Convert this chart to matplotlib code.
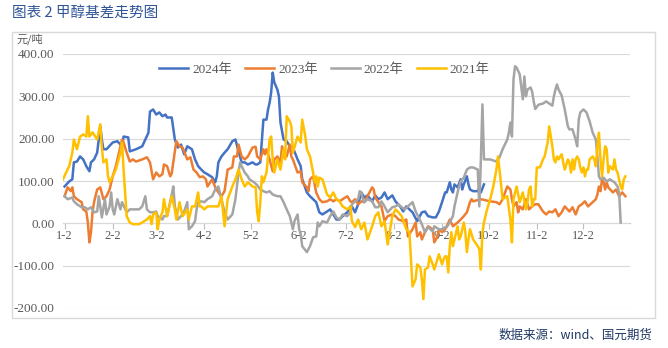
import datetime as dt
import matplotlib
matplotlib.use("Agg")
import matplotlib.pyplot as plt
from matplotlib import font_manager
from matplotlib.patches import Rectangle

serif = "Liberation Serif"
try:
    font_manager.findfont(font_manager.FontProperties(family=serif), fallback_to_default=False)
except Exception:
    serif = "DejaVu Serif"
plt.rcParams['font.family'] = [serif, 'Noto Sans CJK SC', 'DejaVu Sans']

# ---- data: day of year -> basis (yuan/ton) ----
day_2024 = [2, 5, 7, 8, 10, 12, 14, 16, 18, 19,
            21, 23, 25, 26, 27, 29, 33, 36, 39, 40,
            43, 44, 48, 52, 56, 57, 59, 61, 63, 65,
            67, 68, 71, 73, 75, 77, 79, 81, 84, 86,
            88, 90, 92, 94, 97, 99, 100, 101, 103, 105,
            107, 110, 112, 114, 116, 118, 120, 123, 125, 126,
            128, 130, 132, 133, 134, 135, 136, 137, 139, 140,
            141, 143, 145, 147, 149, 152, 154, 155, 158, 160,
            162, 164, 166, 168, 171, 173, 175, 177, 179, 181,
            184, 186, 187, 189, 191, 193, 195, 197, 200, 202,
            204, 206, 208, 210, 213, 215, 218, 220, 222, 226,
            229, 232, 234, 236, 239, 241, 243, 245, 247, 248,
            250, 251, 252, 253, 255, 257, 258, 259, 261, 262,
            263, 265, 268, 269, 270, 272]
val_2024 = [87, 99, 104, 144, 146, 158, 151, 135, 123, 144,
            151, 167, 229, 198, 175, 175, 191, 194, 182, 205,
            203, 170, 175, 182, 214, 264, 269, 257, 262, 253,
            257, 250, 250, 198, 179, 186, 163, 182, 175, 151,
            135, 127, 120, 116, 109, 97, 111, 144, 158, 167,
            175, 194, 198, 170, 144, 144, 139, 144, 139, 139,
            144, 245, 245, 269, 285, 309, 356, 333, 316, 300,
            238, 198, 194, 182, 179, 151, 135, 104, 73, 64,
            57, 50, 26, 21, 28, 33, 21, 9, 9, 17,
            26, 40, 40, 26, 45, 73, 61, 66, 52, 66,
            57, 61, 73, 57, 66, 52, 40, 28, 40, 26,
            5, 26, 28, 17, 14, 14, 28, 50, 73, 73,
            97, 80, 73, 92, 85, 104, 80, 92, 111, 92,
            80, 76, 76, 85, 73, 92]

day_2023 = [2, 4, 6, 7, 8, 10, 13, 14, 16, 17,
            18, 19, 20, 21, 23, 25, 27, 29, 31, 33,
            35, 38, 39, 40, 42, 44, 46, 48, 52, 55,
            57, 59, 61, 63, 65, 66, 68, 70, 71, 73,
            74, 76, 78, 81, 83, 85, 87, 89, 91, 93,
            94, 97, 99, 101, 103, 105, 107, 110, 111, 113,
            114, 116, 118, 120, 123, 125, 126, 128, 130, 131,
            132, 134, 136, 137, 139, 141, 142, 143, 145, 147,
            148, 149, 152, 154, 155, 158, 159, 160, 162, 164,
            166, 168, 171, 173, 175, 177, 179, 181, 184, 186,
            187, 189, 191, 193, 195, 197, 200, 201, 202, 204,
            206, 208, 210, 213, 215, 217, 220, 222, 223, 226,
            228, 229, 231, 232, 234, 236, 239, 240, 242, 243,
            245, 247, 248, 250, 252, 255, 257, 259, 261, 263,
            264, 265, 270, 276, 280, 282, 284, 287, 289, 290,
            291, 293, 294, 295, 297, 299, 301, 303, 305, 307,
            310, 312, 314, 316, 318, 320, 322, 324, 327, 329,
            331, 333, 335, 337, 339, 342, 344, 345, 346, 347,
            348, 349, 350, 351, 352, 355, 357, 359, 361, 363]
val_2023 = [64, 85, 76, 85, 64, 57, 50, 33, 28, 2,
            -45, -21, 26, 50, 80, 85, 57, 64, 80, 111,
            135, 182, 198, 191, 167, 146, 151, 146, 151, 156,
            144, 104, 120, 111, 116, 139, 135, 111, 118, 170,
            194, 182, 179, 151, 156, 127, 120, 109, 111, 104,
            87, 104, 85, 73, 64, 76, 127, 132, 158, 158,
            186, 158, 151, 158, 179, 181, 158, 151, 175, 163,
            175, 151, 123, 151, 158, 144, 182, 163, 158, 186,
            158, 151, 120, 123, 97, 85, 76, 104, 111, 73,
            57, 50, 52, 57, 52, 57, 52, 57, 64, 52,
            50, 57, 45, 52, 50, 64, 85, 80, 61, 50,
            40, 5, 17, 21, 17, 9, 5, 9, -31, -14,
            2, -31, -21, -38, -21, -7, -14, -45, -31, -14,
            -21, -14, -7, 9, -7, 2, 9, 17, 26, 50,
            57, 52, 57, 52, 50, 45, 57, 87, 80, 57,
            40, 50, 26, 40, 33, 57, 33, 40, 45, 45,
            28, 21, 28, 26, 33, 17, 26, 40, 28, 38,
            21, 40, 45, 52, 40, 50, 57, 68, 87, 76,
            104, 97, 80, 97, 85, 73, 80, 64, 73, 64]

day_2022 = [2, 4, 7, 8, 10, 13, 15, 17, 19, 21,
            23, 24, 25, 26, 28, 29, 31, 32, 33, 34,
            36, 38, 39, 42, 44, 46, 50, 52, 54, 55,
            57, 59, 61, 62, 65, 66, 68, 71, 72, 73,
            75, 77, 79, 81, 82, 84, 86, 87, 88, 90,
            92, 94, 97, 99, 101, 103, 105, 107, 110, 112,
            114, 115, 116, 118, 120, 121, 124, 126, 128, 130,
            132, 134, 136, 139, 141, 143, 145, 147, 149, 150,
            152, 153, 154, 155, 158, 160, 162, 164, 165, 166,
            168, 171, 173, 175, 177, 179, 181, 184, 186, 187,
            189, 191, 192, 193, 194, 195, 197, 200, 202, 204,
            206, 208, 210, 213, 215, 217, 219, 221, 223, 226,
            228, 230, 232, 234, 236, 239, 240, 243, 245, 247,
            248, 250, 252, 253, 255, 256, 257, 259, 261, 263,
            265, 268, 269, 270, 271, 272, 276, 280, 282, 284,
            287, 288, 289, 290, 291, 292, 293, 295, 297, 298,
            299, 300, 302, 303, 304, 305, 307, 310, 312, 314,
            316, 317, 318, 319, 320, 321, 322, 324, 326, 327,
            329, 331, 332, 333, 334, 336, 338, 340, 342, 344,
            345, 346, 347, 349, 351, 353, 356, 358, 359, 360]
val_2022 = [64, 57, 61, 52, 45, 38, 38, 33, 38, 26,
            28, 64, 40, 14, 57, 21, 40, 73, 33, 21,
            57, 33, 50, 26, 33, 33, 33, 40, 64, 33,
            26, 26, 28, 17, 9, 17, 17, 68, 87, 40,
            9, 17, 28, 50, -14, -7, 5, 33, 50, 52,
            50, 57, 64, 80, 87, 57, 26, 9, 21, 57,
            120, 144, 135, 120, 111, 104, 97, 90, 80, 76,
            73, 76, 68, 64, 64, 50, 33, 17, -14, 5,
            21, -14, -26, -54, -68, -54, -33, -31, 2, -7,
            5, 2, 17, 28, 14, 9, 21, 17, 26, 45,
            52, 57, 76, 73, 57, 50, 57, 52, 38, 38,
            52, 40, 26, 38, 40, 45, 38, 33, 40, 50,
            28, 14, -2, -21, -9, -19, -7, -14, -14, -9,
            -9, 2, 17, 40, 73, 87, 99, 108, 127, 132,
            132, 127, 40, 151, 281, 151, 151, 146, 156, 175,
            198, 214, 238, 205, 340, 371, 368, 352, 293, 347,
            300, 316, 321, 311, 288, 270, 280, 283, 288, 283,
            278, 300, 316, 328, 316, 309, 302, 269, 229, 222,
            222, 198, 182, 245, 262, 269, 262, 241, 214, 198,
            158, 111, 104, 108, 99, 104, 97, 87, 73, 2]

day_2021 = [1, 3, 5, 7, 8, 10, 12, 14, 16, 17,
            18, 20, 23, 25, 26, 27, 29, 30, 31, 32,
            33, 35, 38, 39, 40, 42, 44, 46, 48, 50,
            52, 55, 57, 58, 59, 61, 62, 63, 65, 66,
            68, 71, 73, 74, 76, 78, 81, 82, 84, 86,
            87, 88, 89, 90, 92, 94, 97, 99, 101, 103,
            105, 106, 107, 110, 112, 114, 116, 118, 120, 123,
            125, 126, 127, 128, 129, 130, 132, 134, 135, 136,
            137, 139, 141, 143, 144, 145, 147, 148, 149, 152,
            154, 155, 157, 158, 160, 162, 163, 164, 165, 166,
            168, 171, 173, 175, 177, 179, 181, 184, 186, 187,
            189, 191, 193, 195, 197, 200, 202, 204, 206, 208,
            210, 213, 215, 217, 219, 222, 224, 226, 228, 229,
            231, 232, 233, 234, 236, 237, 239, 240, 242, 243,
            245, 246, 247, 248, 249, 250, 251, 252, 255, 256,
            257, 259, 260, 261, 262, 263, 265, 268, 269, 270,
            271, 272, 274, 276, 278, 280, 281, 282, 284, 287,
            289, 290, 291, 293, 295, 297, 299, 300, 301, 302,
            303, 304, 305, 306, 308, 310, 311, 312, 313, 314,
            315, 316, 317, 318, 319, 320, 321, 322, 323, 324,
            326, 327, 328, 329, 330, 331, 332, 333, 334, 335,
            336, 337, 338, 339, 340, 342, 343, 344, 345, 346,
            347, 348, 349, 350, 351, 352, 353, 355, 356, 357,
            358, 359, 360, 361, 362, 363]
val_2021 = [104, 120, 135, 167, 198, 175, 205, 210, 205, 253,
            205, 215, 198, 234, 179, 144, 151, 111, 97, 104,
            111, 127, 167, 191, 127, 17, 2, -2, -2, -2,
            2, 9, 17, -2, 21, 26, -14, 9, 26, 57,
            17, 64, 33, 9, 50, 17, 33, 9, 40, 40,
            57, 73, 40, 40, 33, 40, 40, 40, 40, 64,
            -7, 26, 57, 87, 104, 127, 104, 87, 97, 87,
            85, 26, 5, 50, 111, 97, 120, 198, 205, 151,
            120, 151, 127, 175, 151, 253, 241, 229, 167, 205,
            191, 245, 205, 175, 158, 120, 97, 111, 87, 108,
            104, 68, 61, 73, 57, 52, 40, 33, 40, 5,
            -9, 9, -14, 2, -38, -7, 17, 26, -7, 5,
            -50, 17, 33, 26, 17, -14, -21, -149, -132, -97,
            -104, -132, -179, -109, -104, -78, -97, -109, -85, -73,
            -97, -85, -78, -78, -116, -54, -21, -54, -7, -38,
            -31, 2, -21, -68, -38, -14, -38, -54, -61, -109,
            -21, 2, 33, 57, 87, 127, 158, 127, 57, 64,
            9, -45, 57, 87, 50, 73, 33, 50, 80, 87,
            40, 57, 57, 132, 132, 151, 158, 175, 191, 229,
            205, 182, 151, 144, 158, 151, 158, 163, 144, 127,
            151, 144, 120, 151, 127, 151, 158, 151, 132, 120,
            132, 111, 127, 127, 151, 158, 151, 135, 182, 214,
            151, 111, 151, 182, 175, 120, 135, 127, 151, 127,
            120, 104, 87, 80, 104, 111]

series = [("2024年", day_2024, val_2024, "#4472C4"),
          ("2023年", day_2023, val_2023, "#ED7D31"),
          ("2022年", day_2022, val_2022, "#A5A5A5"),
          ("2021年", day_2021, val_2021, "#FFC000")]

month_labels = [f"{m}-2" for m in range(1, 13)]
month_days = [dt.date(2021, m, 2).timetuple().tm_yday for m in range(1, 13)]
y_ticks = [-200, -100, 0, 100, 200, 300, 400]

# ---- figure ----
W, H = 668, 348
fig = plt.figure(figsize=(W / 100, H / 100), dpi=100)
fig.patches.append(Rectangle((12 / W, 1 - 318 / H), 643 / W, 286 / H,
                             transform=fig.transFigure, fill=False,
                             edgecolor="#D9D9D9", linewidth=1.0))

ax = fig.add_axes([63 / W, 1 - 308 / H, 567 / W, 254 / H])
for name, d, v, c in series:
    ax.plot(d, v, color=c, linewidth=1.8, label=name, solid_joinstyle="round")

ax.set_xlim(1, 366)
ax.set_ylim(-200, 400)
for s in ["left", "right", "top"]:
    ax.spines[s].set_visible(False)
ax.spines["bottom"].set_position(("data", 0))
ax.spines["bottom"].set_color("#BFBFBF")
ax.spines["bottom"].set_zorder(0.5)
ax.set_yticks(y_ticks)
ax.set_yticklabels([f"{t:.2f}" for t in y_ticks], family=[serif])
ax.grid(axis="y", color="#D9D9D9", linewidth=0.8)
ax.set_axisbelow(True)
ax.tick_params(axis="y", length=0, pad=6, labelsize=9.5, labelcolor="#595959")
ax.set_xticks(month_days)
ax.set_xticklabels(month_labels, family=[serif])
ax.tick_params(axis="x", length=4, width=0.8, color="#BFBFBF", pad=1,
               labelsize=9, labelcolor="#595959")

ax.text(-0.035, 1.035, "元/吨", transform=ax.transAxes, ha="right", va="bottom",
        fontsize=8, color="#595959", family=["Noto Sans CJK SC"])

leg = ax.legend(loc="upper center", bbox_to_anchor=(0.461, 1.01), ncol=4, frameon=False,
                prop={"family": [serif, "Noto Sans CJK SC"], "size": 9.5},
                handlelength=2.2, columnspacing=1.0, handletextpad=0.3)
for t in leg.get_texts():
    t.set_color("#595959")

fig.text(12 / W, 1 - 13 / H, "图表 2 甲醇基差走势图", ha="left", va="center",
         fontsize=10.5, color="#2F5597", family=["Noto Sans CJK SC"])
fig.text(652 / W, 1 - 335 / H, "数据来源：wind、国元期货", ha="right", va="center",
         fontsize=9, color="#1F3864", family=["Noto Sans CJK SC"])

fig.savefig("out.png", dpi=100)
